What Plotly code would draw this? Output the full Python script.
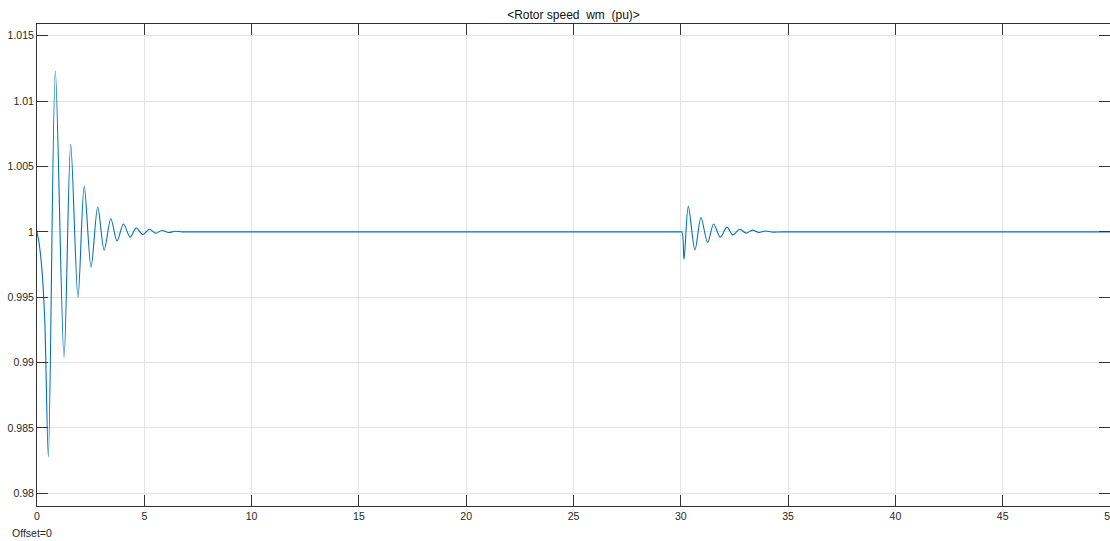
import plotly.graph_objects as go

# ---- data (time s, rotor speed pu) ----
t_start = [0.0, 0.1, 0.22, 0.36, 0.53, 0.855, 1.26, 1.57, 1.91, 2.2, 2.52, 2.83,
           3.13, 3.44, 3.73, 4.03, 4.34, 4.62, 4.93, 5.23, 5.52, 5.82, 6.13,
           6.44, 6.75, 7.2]
w_start = [1.0, 0.9991, 0.9973, 0.9933, 0.9828, 1.0123, 0.9904, 1.0067, 0.9950,
           1.0035, 0.9973, 1.0019, 0.9986, 1.0010, 0.9993, 1.0006, 0.9996,
           1.0003, 0.9998, 1.0002, 0.9999, 1.0001, 0.99995, 1.00005, 1.0, 1.0]

t_event = [29.95, 30.05, 30.15, 30.35, 30.66, 30.94, 31.25, 31.53, 31.84, 32.15,
           32.43, 32.74, 33.05, 33.33, 33.64, 33.93, 34.3, 34.8, 50.0]
w_event = [1.0, 1.0, 0.9979, 1.00195, 0.99862, 1.0011, 0.99918, 1.0006, 0.99959,
           1.00036, 0.99977, 1.0002, 0.9999, 1.00013, 0.99995, 1.00007, 0.99998,
           1.0, 1.0]

x_ticks = [0, 5, 10, 15, 20, 25, 30, 35, 40, 45, 50]
y_ticks = [0.98, 0.985, 0.99, 0.995, 1.0, 1.005, 1.01, 1.015]
y_tick_text = ["0.98", "0.985", "0.99", "0.995", "1", "1.005", "1.01", "1.015"]

t_all = t_start + t_event
w_all = w_start + w_event

axis_col = "#333333"
grid_col = "#e3e3e3"
font_fam = "Liberation Sans, Arial, sans-serif"

W, H = 1110, 541
L, T, B = 37, 24, 35
plot_w, plot_h = W - L, H - T - B

fig = go.Figure()
fig.add_trace(go.Scatter(
    x=t_all, y=w_all, mode="lines",
    line=dict(color="#0072BD", width=1.1, shape="spline", smoothing=0.9),
    hoverinfo="skip",
))

fig.update_layout(
    template="none",
    width=W, height=H,
    margin=dict(l=L, r=0, t=T, b=B, pad=0),
    plot_bgcolor="white", paper_bgcolor="white",
    showlegend=False,
    font=dict(family=font_fam, size=10.5, color="#262626"),
    title=dict(
        text="&lt;Rotor speed\u00a0 wm\u00a0 (pu)&gt;",
        x=0.5, xref="paper", xanchor="center",
        y=1 - 15 / H, yref="container", yanchor="middle",
        font=dict(family=font_fam, size=12, color="#111111"),
    ),
    annotations=[dict(
        text="Offset=0", xref="paper", yref="paper",
        x=(10 - L) / plot_w, y=-27 / plot_h,
        xanchor="left", yanchor="middle", showarrow=False,
        font=dict(family=font_fam, size=10.5, color="#262626"),
    )],
)

fig.update_xaxes(
    range=[0, 50], tickmode="array", tickvals=x_ticks,
    showgrid=True, gridcolor=grid_col, gridwidth=1, zeroline=False,
    ticks="inside", ticklen=11, tickwidth=1, tickcolor=axis_col,
    showline=True, linecolor=axis_col, linewidth=1, mirror="ticks",
    tickfont=dict(family=font_fam, size=10.5, color="#262626"),
    ticklabeloverflow="allow",
    automargin=False,
)
fig.update_yaxes(
    range=[0.97903, 1.0159], tickmode="array", tickvals=y_ticks, ticktext=y_tick_text,
    showgrid=True, gridcolor=grid_col, gridwidth=1, zeroline=False,
    ticks="inside", ticklen=11, tickwidth=1, tickcolor=axis_col,
    showline=True, linecolor=axis_col, linewidth=1, mirror="ticks",
    tickfont=dict(family=font_fam, size=10.5, color="#262626"),
    ticklabeloverflow="allow",
    automargin=False,
)

# remove the default 8px page margin so the fixed-size figure fills the window
fig.write_html(
    "out.html",
    config={"displayModeBar": False},
    post_script="document.body.style.margin='0';",
)
